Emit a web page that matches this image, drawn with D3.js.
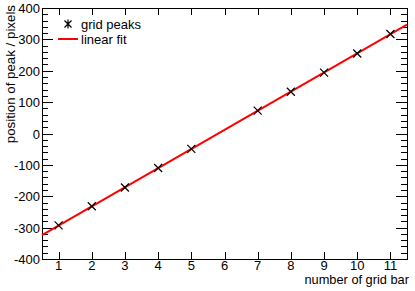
<!DOCTYPE html>
<html>
<head>
<meta charset="utf-8">
<script src="https://cdn.jsdelivr.net/npm/d3@7"></script>
<style>
  html, body { margin: 0; padding: 0; background: #fff; }
  svg { display: block; font-family: "Liberation Sans", Arial, sans-serif; }
</style>
</head>
<body>
<svg id="chart" width="415" height="291"></svg>
<script>
// grid bar number and measured peak position
const barNumbers = [1, 2, 3, 4, 5, 7, 8, 9, 10, 11];
const peakPositions = [-293, -232, -172, -110, -49, 73, 133, 194, 255, 317];

// linear fit line, read at the frame edges
const fitX = [0.5, 11.5];
const fitY = [-324, 347];

const xTicks = [1, 2, 3, 4, 5, 6, 7, 8, 9, 10, 11];
const yTicks = [-400, -300, -200, -100, 0, 100, 200, 300, 400];

const svg = d3.select("#chart");
const pLeft = 42, pRight = 407, pTop = 8, pBottom = 259;

const x = d3.scaleLinear().domain([0.5, 11.5]).range([pLeft, pRight]);
const y = d3.scaleLinear().domain([-400, 400]).range([pBottom, pTop]);

// minor y ticks every 20
const yMinor = d3.range(-400, 401, 20).filter(v => v % 100 !== 0);

const g = svg.append("g");

// frame
g.append("rect")
  .attr("x", pLeft + 0.5).attr("y", pTop + 0.5)
  .attr("width", pRight - pLeft).attr("height", pBottom - pTop)
  .attr("fill", "none").attr("stroke", "#000").attr("stroke-width", 1);

// x ticks, bottom and top
xTicks.forEach(v => {
  const px = Math.round(x(v)) + 0.5;
  g.append("line").attr("x1", px).attr("x2", px).attr("y1", pBottom).attr("y2", pBottom - 7)
    .attr("stroke", "#000");
  g.append("line").attr("x1", px).attr("x2", px).attr("y1", pTop).attr("y2", pTop + 7)
    .attr("stroke", "#000");
  g.append("text").attr("x", x(v)).attr("y", 270)
    .attr("text-anchor", "middle").attr("font-size", 13).text(v);
});

// y ticks, left and right
yTicks.forEach(v => {
  const py = Math.round(y(v)) + 0.5;
  g.append("line").attr("x1", pLeft).attr("x2", pLeft + 11).attr("y1", py).attr("y2", py)
    .attr("stroke", "#000");
  g.append("line").attr("x1", pRight).attr("x2", pRight - 11).attr("y1", py).attr("y2", py)
    .attr("stroke", "#000");
  g.append("text").attr("x", pLeft - 2).attr("y", y(v) + 5)
    .attr("text-anchor", "end").attr("font-size", 13).text(v);
});
yMinor.forEach(v => {
  const py = Math.round(y(v)) + 0.5;
  g.append("line").attr("x1", pLeft).attr("x2", pLeft + 6).attr("y1", py).attr("y2", py)
    .attr("stroke", "#000");
  g.append("line").attr("x1", pRight).attr("x2", pRight - 6).attr("y1", py).attr("y2", py)
    .attr("stroke", "#000");
});

// axis titles
g.append("text").attr("x", 409).attr("y", 284)
  .attr("text-anchor", "end").attr("font-size", 12.8).text("number of grid bar");
g.append("text")
  .attr("transform", "translate(15, 5) rotate(-90)")
  .attr("text-anchor", "end").attr("font-size", 13.3).text("position of peak / pixels");

// fit line
const line = d3.line().x(d => x(d[0])).y(d => y(d[1]));
g.append("path")
  .datum(fitX.map((v, i) => [v, fitY[i]]))
  .attr("d", line)
  .attr("fill", "none").attr("stroke", "#f00").attr("stroke-width", 2);

// markers (x crosses)
const s = 4;
barNumbers.forEach((v, i) => {
  const cx = x(v), cy = y(peakPositions[i]);
  g.append("path")
    .attr("d", `M${cx - s},${cy - s}L${cx + s},${cy + s}M${cx - s},${cy + s}L${cx + s},${cy - s}`)
    .attr("stroke", "#000").attr("stroke-width", 1.2).attr("fill", "none");
});

// legend
const lx = 68, ly1 = 24, ly2 = 39;
const a = 3.5;
g.append("path")
  .attr("d", `M${lx - a},${ly1 - a}L${lx + a},${ly1 + a}M${lx - a},${ly1 + a}L${lx + a},${ly1 - a}M${lx},${ly1 - a - 1}L${lx},${ly1 + a + 1}`)
  .attr("stroke", "#000").attr("stroke-width", 1.2);
g.append("text").attr("x", 81).attr("y", ly1 + 5).attr("font-size", 13).text("grid peaks");
g.append("line").attr("x1", 58).attr("x2", 78).attr("y1", ly2).attr("y2", ly2)
  .attr("stroke", "#f00").attr("stroke-width", 2);
g.append("text").attr("x", 81).attr("y", ly2 + 5).attr("font-size", 13).text("linear fit");
</script>
</body>
</html>
